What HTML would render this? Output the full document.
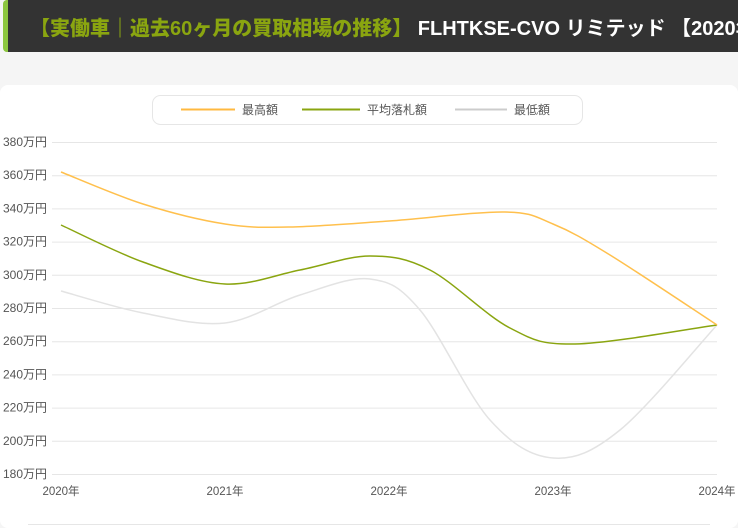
<!DOCTYPE html><html><head><meta charset="utf-8"><style>
body{margin:0;width:738px;height:528px;background:#f5f5f5;font-family:"Liberation Sans","Noto Sans CJK JP",sans-serif;overflow:hidden;position:relative}
.hd{position:absolute;left:3px;top:0;width:735px;height:52px;background:#333;border-left:5px solid #8cc63f;box-sizing:border-box;border-radius:4px 0 0 4px;overflow:hidden}
.hd span{position:absolute;left:22px;top:12px;font-size:20px;font-weight:bold;white-space:nowrap;color:#fff}
.card{position:absolute;left:0;top:85px;width:738px;height:443px;background:#fff;border-radius:8px}
</style></head><body>
<div class="hd"><span><b style="color:#8aa510">【実働車｜過去60ヶ月の買取相場の推移】</b> FLHTKSE-CVO リミテッド 【2020年式】</span></div>
<div class="card"></div>
<svg width="738" height="528" style="position:absolute;left:0;top:0" font-family="Liberation Sans,Noto Sans CJK JP,sans-serif">
<rect x="152.5" y="95.5" width="430" height="29" rx="8" fill="#fff" stroke="#e6e6e6"/>
<line x1="181" y1="109.5" x2="235" y2="109.5" stroke="#ffb940" stroke-width="2"/><text x="242" y="114" font-size="12" fill="#555">最高額</text>
<line x1="302" y1="109.5" x2="360" y2="109.5" stroke="#8aa510" stroke-width="2"/><text x="367" y="114" font-size="12" fill="#555">平均落札額</text>
<line x1="455" y1="109.5" x2="507" y2="109.5" stroke="#ccc" stroke-width="2"/><text x="514" y="114" font-size="12" fill="#555">最低額</text>
<g id="grid"></g>
<path id="mn" fill="none" stroke="#e3e3e3" stroke-width="1.5"/>
<path id="av" fill="none" stroke="#8aa510" stroke-width="1.5"/>
<path id="mx" fill="none" stroke="#ffc04d" stroke-width="1.5"/>
<line x1="28" y1="524.5" x2="710" y2="524.5" stroke="#e6e6e6"/>
</svg>
<script>
var g=document.getElementById('grid'),h='';
for(var i=0;i<=10;i++){var y=142+i*33.2,v=380-i*20;h+='<line x1="52" y1="'+(y+.5)+'" x2="717" y2="'+(y+.5)+'" stroke="#e6e6e6"/><text x="3" y="'+(y+4)+'" font-size="12" fill="#555">'+v+'万円</text>';}
var yr=['2020年','2021年','2022年','2023年','2024年'];
for(i=0;i<5;i++){var x=61+i*164;h+='<text x="'+x+'" y="495" font-size="11.5" fill="#555" text-anchor="middle">'+yr[i]+'</text>';}
g.innerHTML=h;
function cr(p){var d='M'+p[0][0]+','+p[0][1];for(var i=0;i<p.length-1;i++){var a=p[i-1]||p[i],b=p[i],c=p[i+1],e=p[i+2]||c;d+=' C'+(b[0]+(c[0]-a[0])/6)+','+(b[1]+(c[1]-a[1])/6)+' '+(c[0]-(e[0]-b[0])/6)+','+(c[1]-(e[1]-b[1])/6)+' '+c[0]+','+c[1];}return d;}
document.getElementById('mx').setAttribute('d',cr([[61,172],[143,204],[225,224],[290,227],[389,221],[505,212],[553,224],[610,255],[717,325]]));
document.getElementById('av').setAttribute('d',cr([[61,225],[143,262],[225,284],[300,270],[370,256],[430,270],[510,328],[575,344],[717,325]]));
document.getElementById('mn').setAttribute('d',cr([[61,291],[143,313],[225,323],[300,295],[370,279],[420,310],[490,420],[553,458],[620,430],[717,325]]));
</script>
</body></html>
